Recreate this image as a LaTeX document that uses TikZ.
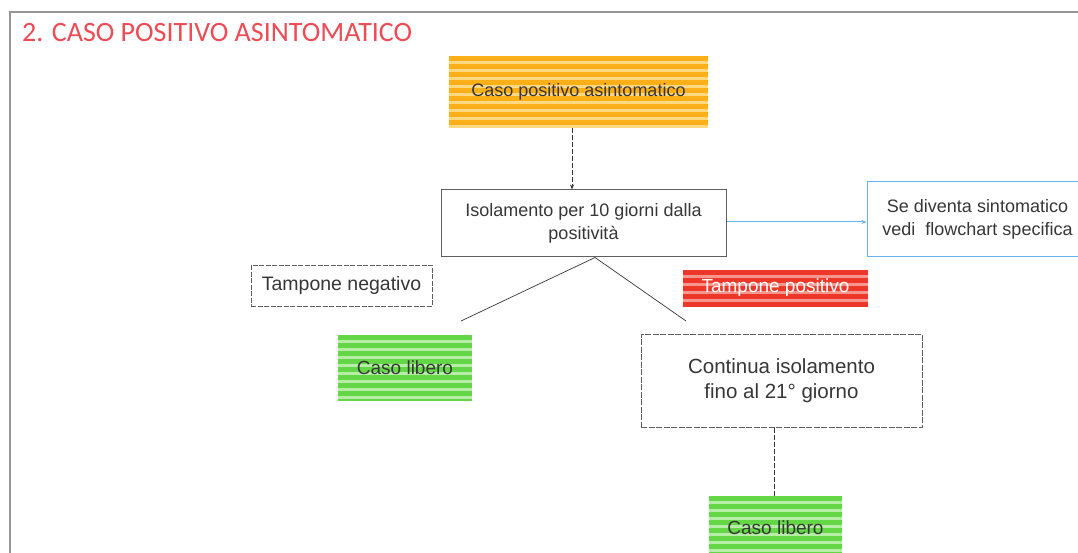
\documentclass[tikz,border=0pt]{standalone}
\usepackage{fontspec}
\setmainfont{Liberation Sans}
\newfontfamily\titlefont{Carlito}
\usetikzlibrary{calc,arrows.meta}
\definecolor{orD}{RGB}{252,175,23}
\definecolor{orL}{RGB}{255,216,130}
\definecolor{grD}{RGB}{100,215,70}
\definecolor{grL}{RGB}{182,238,168}
\definecolor{rdD}{RGB}{238,55,40}
\definecolor{rdL}{RGB}{246,150,140}
\definecolor{txt}{RGB}{55,55,55}
\definecolor{bluL}{RGB}{100,180,240}
\definecolor{ttl}{RGB}{238,75,85}
\definecolor{frm}{RGB}{150,150,150}
\tikzset{
  striped/.style n args={2}{fill=#2, draw=none, inner sep=0pt,
    path picture={
      \foreach \i in {0,...,9}
        \fill[#1] ($(path picture bounding box.north west)+(0,8*\i)$) rectangle ($(path picture bounding box.north east)+(0,8*\i+4.6)$);
    }},
  txtbox/.style={draw=txt!80, line width=1pt, fill=white, inner sep=0pt, text=txt, align=center},
  body/.style={font=\fontsize{18}{23}\selectfont},
  conn/.style={draw=txt, line width=0.8pt},
}
\begin{document}
\begin{tikzpicture}[x=1pt,y=-1pt]
\useasboundingbox (0,0) rectangle (1078,553);
\fill[white] (0,0) rectangle (1078,553);
% frame
\draw[frm, line width=2pt] (1078,12) -- (10,12) -- (10,553);
% title
\node[anchor=base west, inner sep=0pt, text=ttl, font=\titlefont\fontsize{28}{30}\selectfont] (title) at (22,42) {2. CASO POSITIVO ASINTOMATICO};
% nodes
\node[striped={orD}{orL}, minimum width=259pt, minimum height=72pt, text=txt, body] (orange) at (578.5,92) {Caso positivo asintomatico};
\node[txtbox, body, minimum width=285pt, minimum height=67pt] (iso) at (583.5,223.5) {Isolamento per 10 giorni dalla\\positività};
\node[txtbox, draw=bluL, body, minimum width=221pt, minimum height=75pt] (blue) at (977.5,219.5) {Se diventa sintomatico\\vedi\ \ flowchart specifica};
\node[txtbox, dashed, dash pattern=on 5pt off 1.5pt, body, font=\fontsize{19.5}{23}\selectfont, minimum width=181pt, minimum height=41pt] (tneg) at (341.5,285.5) {Tampone negativo};
\node[striped={rdD}{rdL}, minimum width=185pt, minimum height=36pt, text=white, font=\fontsize{19}{23}\selectfont] (tpos) at (775.5,288) {Tampone positivo};
\node[striped={grD}{grL}, minimum width=134pt, minimum height=65pt, text=txt, font=\fontsize{19}{23}\selectfont] (lib1) at (405,367.5) {Caso libero};
\node[txtbox, dash pattern=on 6pt off 1.5pt, font=\fontsize{20.5}{25}\selectfont, minimum width=281pt, minimum height=93pt] (cont) at (781.5,380.5) {Continua isolamento\\fino al 21° giorno};
\node[striped={grD}{grL}, minimum width=133pt, minimum height=64pt, text=txt, font=\fontsize{19}{23}\selectfont] (lib2) at (775.5,528) {Caso libero};
% connectors
\coordinate (x1) at (572,0);
\draw[conn, dashed, dash pattern=on 5pt off 2pt, -{Stealth[length=5pt,width=4pt]}] (orange.south -| x1) -- (iso.north -| x1);
\coordinate (yb) at (0,222);
\draw[draw=bluL, line width=1pt, -{Stealth[length=5pt,width=4pt]}] (iso.east |- yb) -- (blue.west |- yb);
\coordinate (apx) at (595,0);
\coordinate (lend) at (461,321);
\coordinate (rend) at (686,321);
\draw[conn, line width=0.7pt] (lend) -- (iso.south -| apx) -- (rend);
\coordinate (x2) at (774,0);
\draw[conn, dashed, dash pattern=on 5pt off 2pt] (cont.south -| x2) -- (lib2.north -| x2);
\end{tikzpicture}
\end{document}
